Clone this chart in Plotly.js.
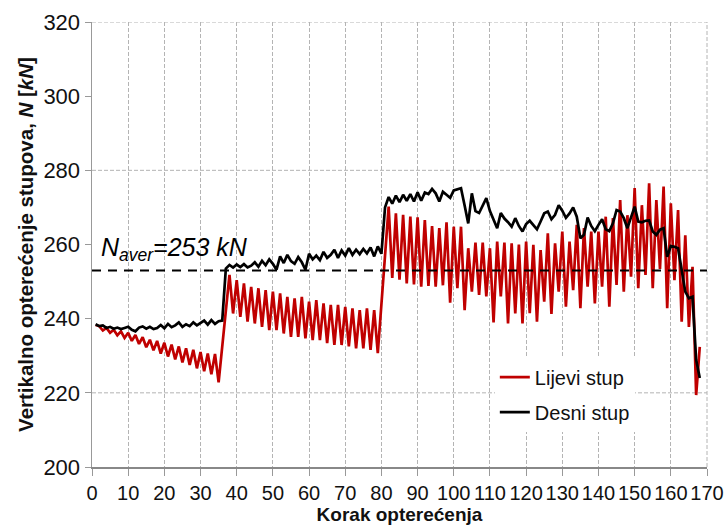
<!DOCTYPE html>
<html>
<head>
<meta charset="utf-8">
<script src="https://cdn.plot.ly/plotly-3.0.1.min.js"></script>
<style>html,body{margin:0;padding:0;background:#fff}#chart{width:725px;height:526px}</style>
</head>
<body>
<div id="chart"></div>
<script>
// Load step (Korak opterećenja)
const steps = [1,2,3,4,5,6,7,8,9,10,11,12,13,14,15,16,17,18,19,20,21,22,23,24,25,26,27,28,29,30,
31,32,33,34,35,36,37,38,39,40,41,42,43,44,45,46,47,48,49,50,51,52,53,54,55,56,57,58,59,60,
61,62,63,64,65,66,67,68,69,70,71,72,73,74,75,76,77,78,79,80,81,82,83,84,85,86,87,88,89,90,
91,92,93,94,95,96,97,98,99,100,101,102,103,104,105,106,107,108,109,110,111,112,113,114,115,116,117,118,119,120,
121,122,123,124,125,126,127,128,129,130,131,132,133,134,135,136,137,138,139,140,141,142,143,144,145,146,147,148,149,150,
151,152,153,154,155,156,157,158,159,160,161,162,163,164,165,166,167,168];

// Lijevi stup (left column) [kN]
const lijeviStup = [
238.3,238.0,236.8,237.5,236.2,237.0,235.5,236.6,234.8,236.2,
234.0,235.6,233.2,235.0,232.3,234.3,231.5,234.0,230.6,233.5,
229.8,233.0,229.0,232.5,228.2,232.0,227.5,231.6,226.6,231.0,
225.8,230.6,225.0,230.5,222.8,232.0,242.0,251.8,241.4,250.4,
240.5,249.5,239.2,248.6,238.7,248.2,237.8,247.7,236.9,247.3,
236.9,246.8,236.0,245.9,235.1,245.5,235.1,245.9,234.7,244.6,
234.2,245.0,234.2,244.1,233.4,243.7,232.9,243.7,232.9,243.2,
232.5,242.8,232.0,242.3,232.0,242.8,231.6,242.3,230.7,243.0,
257.0,270.2,251.0,268.4,250.5,268.0,249.5,267.5,249.2,267.3,
248.6,266.6,248.8,265.0,248.6,264.4,249.0,266.0,244.3,264.8,
248.2,264.8,242.3,259.0,247.3,260.5,246.4,260.5,246.0,259.0,
239.0,260.8,246.0,260.5,238.7,260.3,241.4,260.0,238.7,260.8,
241.5,259.9,239.2,258.5,244.6,263.0,241.3,260.3,247.3,263.5,
243.2,260.8,247.7,265.3,242.8,264.4,248.6,263.5,244.1,263.5,
248.6,267.5,243.2,267.1,249.1,272.0,247.3,267.9,251.3,275.2,
248.2,270.6,251.8,276.5,248.2,272.0,253.4,275.6,242.8,271.1,
250.4,269.3,239.2,262.5,237.8,254.0,219.4,232.4];

// Desni stup (right column) [kN]
const desniStup = [
238.5,238.0,238.2,237.5,237.8,237.3,237.6,237.2,237.5,237.8,
237.0,236.6,237.6,237.9,237.3,237.8,237.2,237.5,238.3,237.4,
238.6,237.7,238.2,239.0,237.8,238.5,238.0,239.0,238.2,238.8,
239.5,238.4,239.6,238.6,239.3,239.5,253.5,254.5,253.8,254.6,
253.9,254.7,253.8,254.3,255.2,254.0,255.6,254.4,256.0,254.8,
253.2,256.8,255.0,257.2,255.5,254.8,256.6,255.2,253.2,257.5,
256.0,257.0,255.8,258.0,256.4,257.2,258.6,256.4,258.4,257.0,
259.0,257.2,258.6,257.4,258.8,257.6,259.2,256.8,259.5,257.5,
270.0,272.8,271.0,273.2,271.4,273.4,271.8,273.6,271.6,274.1,
271.8,274.0,273.6,275.0,273.8,271.6,274.2,273.4,272.6,274.6,
275.0,275.2,270.5,265.7,273.8,269.0,268.5,270.5,272.5,269.0,
266.5,264.4,268.5,267.0,266.0,264.8,267.1,265.0,263.5,265.5,
266.4,265.3,264.1,266.2,268.4,268.9,266.8,268.0,270.6,269.1,
267.2,268.4,270.0,267.5,261.7,262.6,267.3,265.0,263.6,265.3,
266.8,264.1,263.6,265.7,269.3,268.9,267.1,264.4,267.3,270.2,
266.2,266.0,266.4,266.5,263.5,262.6,264.0,264.4,256.7,259.6,
259.4,259.0,253.1,247.3,245.5,245.9,228.9,224.0];

const seriesNames = ['Lijevi stup', 'Desni stup'];
const nAver = 253;
const xTicks = [0,10,20,30,40,50,60,70,80,90,100,110,120,130,140,150,160,170];
const yTicks = [200,220,240,260,280,300,320];
const gridY = [220,280,320];

const FONT = 'Liberation Sans, Arial, sans-serif';
const GRID = '#b4b4b4';

const traces = [
  {x: steps, y: lijeviStup, name: seriesNames[0], type: 'scatter', mode: 'lines', legendgroup: 'a',
   line: {color: '#c00000', width: 2.7}},
  {x: steps, y: desniStup, name: seriesNames[1], type: 'scatter', mode: 'lines', legendgroup: 'b',
   line: {color: '#000000', width: 2.7}},
  {x: [xTicks[0], xTicks[xTicks.length-1]], y: [nAver, nAver], type: 'scatter', mode: 'lines',
   showlegend: false, hoverinfo: 'skip', line: {color: '#000', width: 2, dash: '9px,7px'}}
];

const shapes = gridY.map(v => ({type: 'line', xref: 'paper', x0: 0, x1: 1, yref: 'y', y0: v, y1: v,
  line: {color: GRID, width: 1, dash: '4px,2px'}, layer: 'below'}));
shapes.push({type: 'line', xref: 'paper', x0: 1, x1: 1, yref: 'paper', y0: 0, y1: 1,
  line: {color: GRID, width: 1, dash: '4px,2px'}, layer: 'below'});

const layout = {
  width: 725, height: 526,
  margin: {l: 92, r: 18, t: 22, b: 59},
  paper_bgcolor: '#fff', plot_bgcolor: '#fff',
  font: {family: FONT, color: '#111'},
  showlegend: true,
  legend: {x: 0.655, y: 0.246, xanchor: 'left', yanchor: 'top', bgcolor: '#fff',
    traceorder: 'grouped', tracegroupgap: 6,
    font: {size: 20, family: FONT, color: '#111'}, itemwidth: 30},
  xaxis: {range: [0, 170], tickvals: xTicks, ticktext: xTicks.map(String), tickangle: 0,
    showgrid: true, gridcolor: GRID, gridwidth: 1, griddash: '4px,2px',
    showline: true, linecolor: '#888', linewidth: 2,
    ticks: 'outside', ticklen: 7, tickcolor: '#999', tickwidth: 1,
    tickfont: {size: 20, family: FONT, color: '#111'}, zeroline: false,
    title: {text: '<b>Korak opterećenja</b>', font: {size: 19, family: FONT, color: '#111'}, standoff: 3}},
  yaxis: {range: [200, 320], tickvals: yTicks, ticktext: yTicks.map(String),
    showgrid: false, showline: true, linecolor: '#999', linewidth: 1.5,
    ticks: 'outside', ticklen: 6, tickcolor: '#999', tickwidth: 1,
    tickfont: {size: 22, family: FONT, color: '#111'}, zeroline: false,
    title: {text: '<b>Vertikalno opterećenje stupova, <i>N</i> [<i>kN</i>]</b>',
      font: {size: 20.5, family: FONT, color: '#111'}, standoff: 4}},
  shapes: shapes,
  annotations: [{xref: 'x', yref: 'y', x: 1.8, y: 254.0, xanchor: 'left', yanchor: 'bottom',
    showarrow: false, text: '<i>N<sub>aver</sub>=253 kN</i>',
    font: {size: 25, family: FONT, color: '#000'}}]
};

Plotly.newPlot('chart', traces, layout, {displayModeBar: false, staticPlot: true});
</script>
</body>
</html>
